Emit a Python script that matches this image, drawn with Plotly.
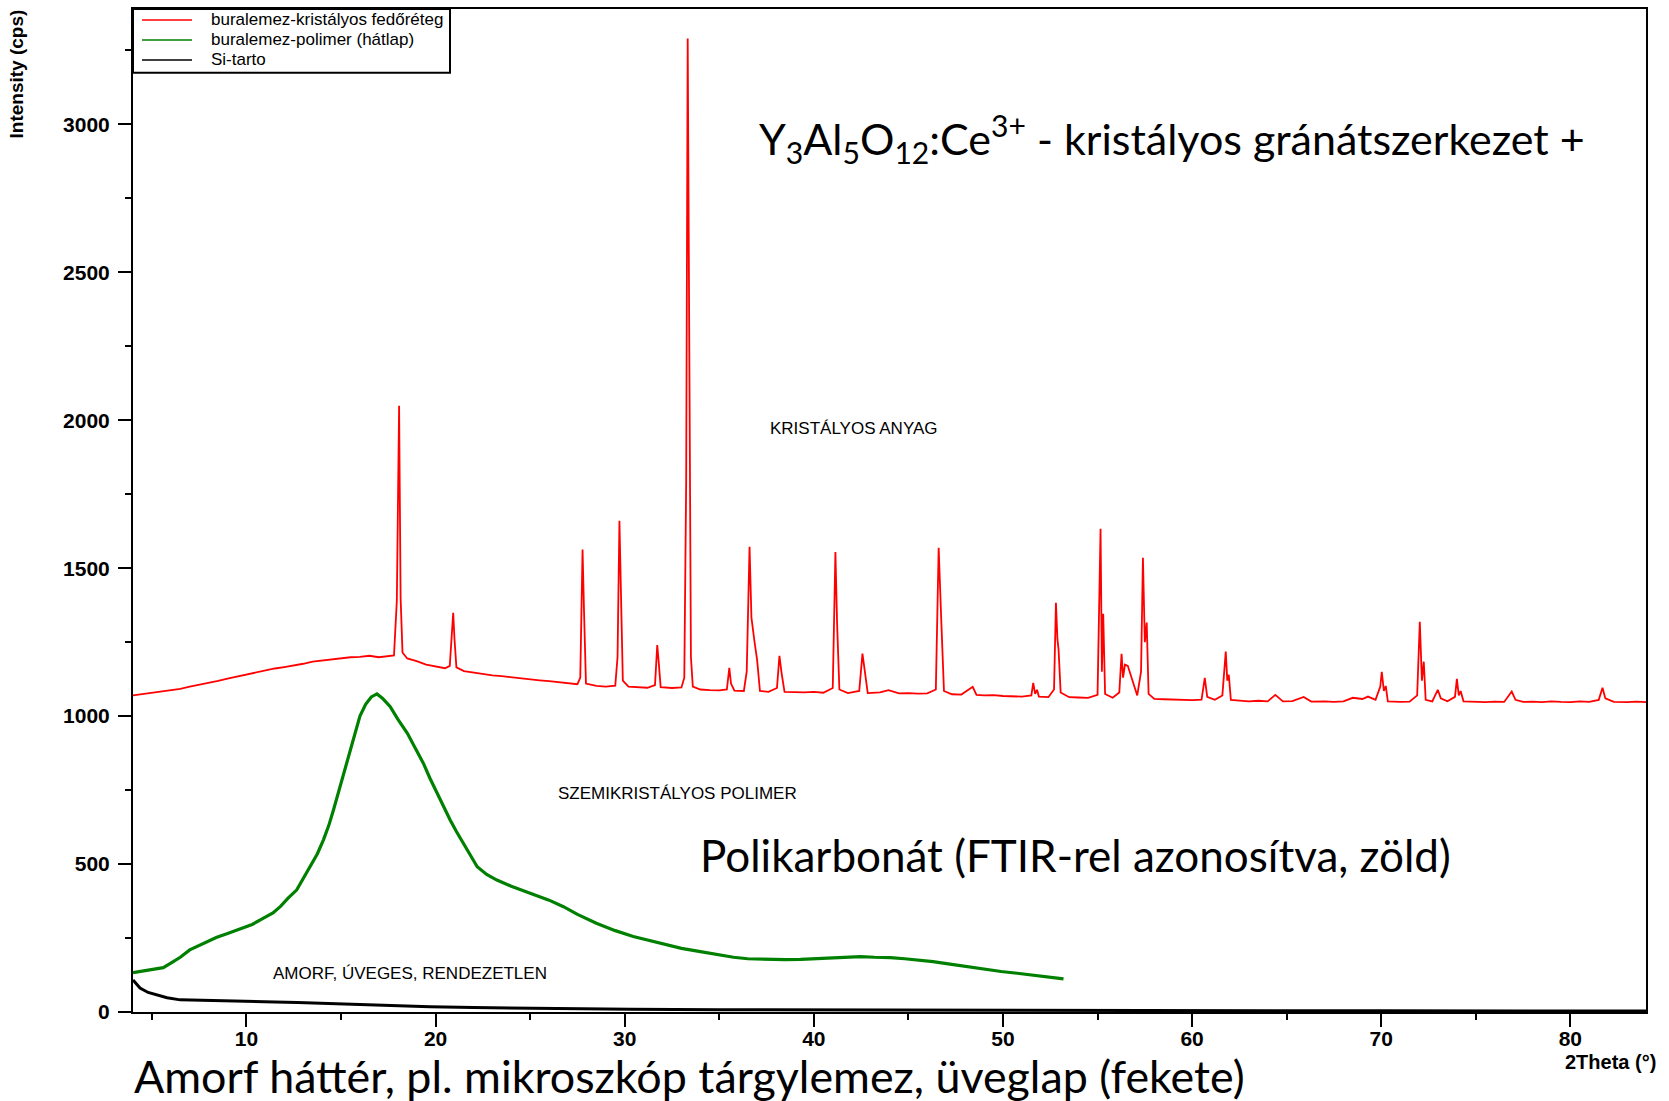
import plotly.graph_objects as go

# ---- data ----
red_x = [4.0, 4.5, 5.0, 5.5, 6.0, 6.5, 7.0, 7.5, 8.0, 8.5, 9.0, 9.5, 10.0, 10.5, 11.0, 11.5, 12.0, 12.5,
         13.0, 13.5, 14.0, 14.5, 15.0, 15.5, 16.0, 16.5, 17.0, 17.5, 17.8, 17.95, 18.07, 18.15, 18.25,
         18.5, 19.0, 19.5, 20.0, 20.5, 20.75, 20.85, 20.93, 21.0, 21.1, 21.5, 22.0, 22.5, 23.0, 23.5,
         24.0, 24.5, 25.0, 25.5, 26.0, 26.5, 27.0, 27.5, 27.65, 27.77, 27.85, 27.95, 28.5, 29.0, 29.5,
         29.62, 29.72, 29.8, 29.9, 30.2, 30.7, 31.2, 31.6, 31.72, 31.8, 31.9, 32.5, 33.0, 33.15, 33.25,
         33.33, 33.4, 33.5, 33.6, 34.0, 34.5, 35.0, 35.4, 35.53, 35.62, 35.8, 36.3, 36.45, 36.6, 36.7,
         36.87, 37.0, 37.15, 37.6, 38.05, 38.18, 38.3, 38.45, 39.0, 39.5, 40.0, 40.5, 41.0, 41.14, 41.23,
         41.35, 41.8, 42.4, 42.57, 42.7, 42.85, 43.5, 43.95, 44.5, 45.0, 45.5, 46.0, 46.45, 46.6, 46.74,
         46.88, 47.3, 47.8, 48.4, 48.6, 49.0, 49.5, 50.0, 50.5, 51.0, 51.5, 51.6, 51.7, 51.8, 51.9, 52.4,
         52.7, 52.8, 52.88, 52.94, 53.05, 53.5, 54.0, 54.5, 55.0, 55.16, 55.23, 55.3, 55.4, 55.8, 56.15,
         56.27, 56.35, 56.45, 56.6, 56.9, 57.1, 57.3, 57.4, 57.5, 57.6, 57.7, 58.0, 58.5, 59.0, 59.5,
         60.0, 60.5, 60.67, 60.8, 61.2, 61.6, 61.78, 61.86, 61.94, 62.05, 62.5, 63.0, 63.5, 64.0, 64.4,
         64.8, 65.3, 65.9, 66.3, 67.0, 67.5, 68.0, 68.5, 69.0, 69.3, 69.7, 69.95, 70.03, 70.14, 70.24,
         70.35, 71.0, 71.5, 71.9, 72.04, 72.15, 72.25, 72.35, 72.7, 72.99, 73.15, 73.5, 73.9, 74.0, 74.1,
         74.2, 74.35, 75.0, 75.5, 76.0, 76.5, 76.9, 77.1, 77.5, 78.0, 78.5, 79.0, 79.5, 80.0, 80.5, 81.0,
         81.5, 81.7, 81.85, 82.3, 83.0, 83.5, 84.0]
red_y = [1070, 1074, 1078, 1083, 1088, 1092, 1100, 1106, 1114, 1119, 1127, 1134, 1140, 1146, 1153, 1161,
         1166, 1171, 1177, 1184, 1188, 1191, 1195, 1199, 1200, 1204, 1199, 1202, 1205, 1390, 2049, 1400,
         1215, 1195, 1186, 1174, 1168, 1162, 1170, 1260, 1349, 1260, 1165, 1152, 1147, 1141, 1138, 1135,
         1131, 1128, 1125, 1121, 1118, 1115, 1110, 1108, 1130, 1563, 1350, 1110, 1102, 1100, 1103,
         1200, 1660, 1360, 1120, 1100, 1097, 1096, 1105, 1240, 1180, 1098, 1095, 1097, 1130, 1800,
         3290, 2200, 1200, 1100, 1090, 1088, 1087, 1090, 1163, 1110, 1086, 1085, 1150, 1572, 1333,
         1248, 1190, 1085, 1082, 1095, 1204, 1143, 1082, 1081, 1080, 1082, 1079, 1095, 1555, 1312,
         1090, 1078, 1085, 1211, 1150, 1078, 1080, 1088, 1077, 1078, 1076, 1077, 1090, 1569, 1319,
         1085, 1074, 1073, 1099, 1072, 1070, 1071, 1068, 1067, 1066, 1070, 1112, 1075, 1089, 1066, 1064,
         1090, 1383, 1260, 1224, 1080, 1064, 1063, 1062, 1072, 1633, 1150, 1346, 1075, 1062, 1080,
         1211, 1130, 1174, 1170, 1112, 1070, 1150, 1535, 1250, 1316, 1075, 1058, 1057, 1056, 1055,
         1054, 1056, 1129, 1065, 1055, 1070, 1218, 1120, 1140, 1055, 1053, 1050, 1052, 1050, 1072,
         1050, 1051, 1065, 1049, 1050, 1048, 1050, 1062, 1058, 1066, 1055, 1100, 1150, 1085, 1102,
         1050, 1048, 1049, 1070, 1319, 1120, 1184, 1055, 1050, 1089, 1060, 1050, 1065, 1126, 1070,
         1085, 1050, 1048, 1047, 1049, 1048, 1083, 1055, 1048, 1049, 1047, 1050, 1048, 1047, 1050, 1048,
         1055, 1096, 1060, 1048, 1047, 1049, 1047]

green_x = [4.0, 4.5, 5.0, 5.6, 6.0, 6.5, 7.0, 7.5, 8.0, 8.4, 9.0, 9.66, 10.3, 10.9, 11.4, 11.8, 12.2,
           12.66, 13.0, 13.4, 13.75, 14.07, 14.35, 14.6, 14.85, 15.1, 15.4, 15.65, 15.85, 16.0, 16.3,
           16.6, 16.9, 17.2, 17.6, 18.0, 18.5, 18.9, 19.35, 19.7, 20.07, 20.4, 20.77, 21.1, 21.47, 21.8,
           22.2, 22.7, 23.24, 24.0, 25.0, 26.0, 26.76, 27.5, 28.5, 29.5, 30.45, 31.2, 32.2, 33.0, 34.0,
           35.0, 35.75, 36.5, 37.5, 38.5, 39.3, 40.2, 41.0, 41.8, 42.47, 43.2, 44.05, 44.8, 45.5, 46.3,
           47.2, 48.0, 49.0, 49.9, 50.75, 51.5, 52.15, 52.7, 53.2]
green_y = [133, 138, 142, 150, 165, 185, 210, 225, 240, 252, 265, 280, 296, 317, 335, 357, 385,
           413, 450, 492, 535, 582, 630, 683, 740, 797, 860, 920, 965, 1000, 1040,
           1065, 1075, 1060, 1032, 990, 943, 895, 841, 790, 740, 695, 649, 610, 571, 532,
           491, 465, 446, 425, 401, 378, 356, 330, 300, 275, 255, 243, 227, 215, 204,
           192, 185, 180, 178, 177, 178, 180, 181, 185, 187, 185, 184, 180, 176, 170,
           162, 154, 144, 137, 131, 125, 120, 116, 112]

black_x = [4.0, 4.2, 4.37, 4.8, 5.25, 5.8, 6.5, 7.5, 9.1, 10.5, 11.5, 12.7, 14.5, 16.2, 18.0, 19.7,
           22.0, 25.0, 28.0, 30.3, 35.0, 40.0, 45.0, 50.0, 55.0, 60.0, 65.0, 70.0, 75.0, 80.0, 84.0]
black_y = [108, 92, 81, 66, 57, 48, 41, 40, 38, 36, 34, 32, 28, 24, 21, 18,
           15, 12, 10, 9, 8, 7, 6, 6, 5, 4, 4, 4, 3, 3, 3]

series_names = ["buralemez-kristályos fedőréteg", "buralemez-polimer (hátlap)", "Si-tarto"]
series_colors = ["#ff0000", "#008000", "#000000"]
x_tick_vals = [10, 20, 30, 40, 50, 60, 70, 80]
y_tick_vals = [0, 500, 1000, 1500, 2000, 2500, 3000]

# ---- figure ----
W, H = 1669, 1101
ML, MR, MT, MB = 133, 23, 7, 89
PW, PH = W - ML - MR, H - MT - MB

def px(x):
    return (x - ML) / PW

def py(y):
    return (H - MB - y) / PH

fig = go.Figure()
for xs, ys, name, col, w in [(red_x, red_y, series_names[0], series_colors[0], 1.8),
                              (green_x, green_y, series_names[1], series_colors[1], 3.2),
                              (black_x, black_y, series_names[2], series_colors[2], 3.0)]:
    fig.add_trace(go.Scatter(x=xs, y=ys, mode="lines", name=name, showlegend=False,
                             line=dict(color=col, width=w)))

axis_font = dict(family="Liberation Sans, Arial, sans-serif", size=21, color="black", weight="bold")
fig.update_xaxes(range=[4, 84], tickvals=x_tick_vals, ticks="outside", ticklen=13, tickwidth=2,
                 tickcolor="black", showline=True, linewidth=2, linecolor="black", mirror=True,
                 showgrid=False, zeroline=False, tickfont=axis_font, ticklabelstandoff=-6,
                 minor=dict(dtick=5, tick0=0, ticks="outside", ticklen=6, tickwidth=2, tickcolor="black"))
fig.update_yaxes(range=[0, 3390], tickvals=y_tick_vals, ticks="outside", ticklen=13, tickwidth=2,
                 tickcolor="black", showline=True, linewidth=2, linecolor="black", mirror=True,
                 showgrid=False, zeroline=False, tickfont=axis_font, ticklabelstandoff=4,
                 minor=dict(dtick=250, tick0=0, ticks="outside", ticklen=6, tickwidth=2, tickcolor="black"))

small = dict(family="Liberation Sans, Arial, sans-serif", size=17, color="black")
bold_lab = dict(family="Liberation Sans, Arial, sans-serif", size=19, color="black", weight="bold")

ann = [
    dict(text="Intensity (cps)", x=px(17), y=py(6), xanchor="center", yanchor="top",
         textangle=-90, font=bold_lab),
    dict(text="2Theta (°)", x=px(1563), y=py(1062), xanchor="left", yanchor="middle",
         font=dict(bold_lab, size=20)),
    dict(text="Y<sub>3</sub>Al<sub>5</sub>O<sub>12</sub>:Ce<sup>3+</sup> - kristályos gránátszerkezet +",
         x=px(757), y=py(137), xanchor="left", yanchor="middle",
         font=dict(family="Lato, sans-serif", size=43, color="black")),
    dict(text="KRISTÁLYOS ANYAG", x=px(768), y=py(427), xanchor="left", yanchor="middle", font=small),
    dict(text="SZEMIKRISTÁLYOS POLIMER", x=px(556), y=py(793), xanchor="left", yanchor="middle", font=small),
    dict(text="Polikarbonát (FTIR-rel azonosítva, zöld)", x=px(698), y=py(855), xanchor="left",
         yanchor="middle", font=dict(family="Lato, sans-serif", size=44, color="black")),
    dict(text="AMORF, ÚVEGES, RENDEZETLEN", x=px(271), y=py(973), xanchor="left", yanchor="middle", font=small),
    dict(text="Amorf háttér, pl. mikroszkóp tárgylemez, üveglap (fekete)", x=px(132), y=py(1076),
         xanchor="left", yanchor="middle", font=dict(family="Lato, sans-serif", size=44.8, color="black")),
]

# legend box drawn as shapes + text
shapes = [dict(type="rect", xref="paper", yref="paper", x0=px(133), x1=px(450), y0=py(71), y1=py(7),
               line=dict(color="black", width=2), fillcolor="white", layer="above")]
for i, (name, col) in enumerate(zip(series_names, series_colors)):
    yrow = 18 + 20 * i
    shapes.append(dict(type="line", xref="paper", yref="paper", x0=px(142), x1=px(192),
                       y0=py(yrow), y1=py(yrow), line=dict(color=col, width=1.5), layer="above"))
    ann.append(dict(text=name, x=px(209), y=py(yrow), xanchor="left", yanchor="middle",
                    font=dict(family="Liberation Sans, Arial, sans-serif", size=17, color="black")))

for a in ann:
    a.update(xref="paper", yref="paper", showarrow=False)

fig.update_layout(
    width=W, height=H, margin=dict(l=ML, r=MR, t=MT, b=MB, pad=0),
    paper_bgcolor="white", plot_bgcolor="white",
    annotations=ann, shapes=shapes, showlegend=False,
)

fig.write_html("out.html")
